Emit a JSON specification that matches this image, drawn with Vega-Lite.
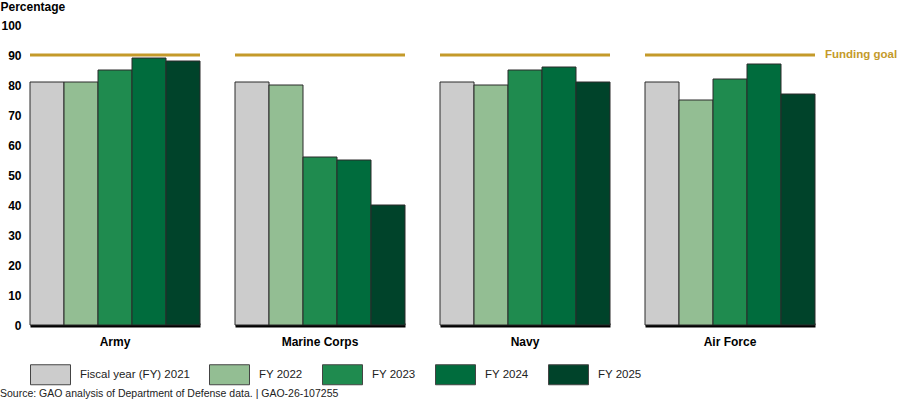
{
  "$schema": "https://vega.github.io/schema/vega-lite/v6.json",
  "padding": {"left": 0, "top": 0, "right": 0, "bottom": 0},
  "config": {
    "font": "Liberation Sans",
    "view": {"stroke": null},
    "facet": {"spacing": 35},
    "axisY": {
      "titleAngle": 0,
      "titleAlign": "left",
      "titleBaseline": "top",
      "titleX": -30,
      "titleY": -24,
      "titleFontSize": 12,
      "titleFontWeight": "bold",
      "titleColor": "#000000",
      "labelOverlap": false,
      "labelFontWeight": "bold",
      "labelFontSize": 12,
      "labelColor": "#000000",
      "labelPadding": 9,
      "ticks": false,
      "domain": false,
      "grid": false
    },
    "axisX": {
      "title": null,
      "labels": false,
      "ticks": false,
      "domainColor": "#000000",
      "domainWidth": 4
    }
  },
  "title": {
    "text": "Source: GAO analysis of Department of Defense data.  |  GAO-26-107255",
    "orient": "bottom",
    "anchor": "start",
    "frame": "bounds",
    "fontSize": 10.5,
    "fontWeight": "normal",
    "color": "#222222",
    "offset": 2
  },
  "data": {
    "values": [
      {"service": "Army", "year": "FY 2021", "value": 81, "goal": 90},
      {"service": "Army", "year": "FY 2022", "value": 81, "goal": 90},
      {"service": "Army", "year": "FY 2023", "value": 85, "goal": 90},
      {"service": "Army", "year": "FY 2024", "value": 89, "goal": 90},
      {"service": "Army", "year": "FY 2025", "value": 88, "goal": 90},
      {"service": "Marine Corps", "year": "FY 2021", "value": 81, "goal": 90},
      {"service": "Marine Corps", "year": "FY 2022", "value": 80, "goal": 90},
      {"service": "Marine Corps", "year": "FY 2023", "value": 56, "goal": 90},
      {"service": "Marine Corps", "year": "FY 2024", "value": 55, "goal": 90},
      {"service": "Marine Corps", "year": "FY 2025", "value": 40, "goal": 90},
      {"service": "Navy", "year": "FY 2021", "value": 81, "goal": 90},
      {"service": "Navy", "year": "FY 2022", "value": 80, "goal": 90},
      {"service": "Navy", "year": "FY 2023", "value": 85, "goal": 90},
      {"service": "Navy", "year": "FY 2024", "value": 86, "goal": 90},
      {"service": "Navy", "year": "FY 2025", "value": 81, "goal": 90},
      {"service": "Air Force", "year": "FY 2021", "value": 81, "goal": 90},
      {"service": "Air Force", "year": "FY 2022", "value": 75, "goal": 90},
      {"service": "Air Force", "year": "FY 2023", "value": 82, "goal": 90},
      {"service": "Air Force", "year": "FY 2024", "value": 87, "goal": 90},
      {"service": "Air Force", "year": "FY 2025", "value": 77, "goal": 90}
    ]
  },
  "bounds": "flush",
  "facet": {
    "column": {
      "field": "service",
      "type": "nominal",
      "sort": ["Army", "Marine Corps", "Navy", "Air Force"],
      "header": {
        "title": null,
        "labelOrient": "bottom",
        "labelFontWeight": "bold",
        "labelFontSize": 12,
        "labelColor": "#000000",
        "labelPadding": 12
      }
    }
  },
  "spec": {
    "width": 170,
    "height": 300,
    "layer": [
      {
        "mark": {"type": "bar", "stroke": "#2a2a2a", "strokeWidth": 1},
        "encoding": {
          "x": {
            "field": "year",
            "type": "nominal",
            "scale": {"paddingInner": 0, "paddingOuter": 0}
          },
          "y": {
            "field": "value",
            "type": "quantitative",
            "scale": {"domain": [0, 100]},
            "axis": {"title": "Percentage", "tickCount": 12, "values": [0, 10, 20, 30, 40, 50, 60, 70, 80, 90, 100]}
          },
          "color": {
            "field": "year",
            "type": "nominal",
            "scale": {
              "domain": ["FY 2021", "FY 2022", "FY 2023", "FY 2024", "FY 2025"],
              "range": ["#CCCCCC", "#93BE93", "#1F8B4F", "#006C3D", "#00432A"]
            },
            "legend": {
              "title": null,
              "orient": "none",
              "legendX": 10,
              "legendY": 339,
              "direction": "horizontal",
              "columns": 5,
              "symbolType": "M-2,-1H2V1H-2Z",
              "symbolSize": 400,
              "symbolStrokeColor": "#444444",
              "symbolStrokeWidth": 1,
              "labelFontSize": 11.5,
              "labelColor": "#222222",
              "labelOffset": 19,
              "columnPadding": 17,
              "labelExpr": "datum.label === 'FY 2021' ? 'Fiscal year (FY) 2021' : datum.label"
            }
          }
        }
      },
      {
        "mark": {"type": "rule", "color": "#C49A2A", "strokeWidth": 3},
        "encoding": {
          "y": {
            "aggregate": "max",
            "field": "goal",
            "type": "quantitative",
            "axis": {"title": "Percentage", "tickCount": 12, "values": [0, 10, 20, 30, 40, 50, 60, 70, 80, 90, 100]}
          }
        }
      },
      {
        "transform": [
          {"filter": "datum.service === 'Air Force' && datum.year === 'FY 2025'"}
        ],
        "mark": {
          "type": "text",
          "align": "left",
          "baseline": "middle",
          "dx": 10,
          "fontSize": 11.5,
          "fontWeight": "bold",
          "color": "#C49A2A"
        },
        "encoding": {
          "x": {"field": "year", "type": "nominal", "bandPosition": 1},
          "y": {
            "field": "goal",
            "type": "quantitative",
            "axis": {"title": "Percentage", "tickCount": 12, "values": [0, 10, 20, 30, 40, 50, 60, 70, 80, 90, 100]}
          },
          "text": {"value": "Funding goal"}
        }
      }
    ]
  }
}
